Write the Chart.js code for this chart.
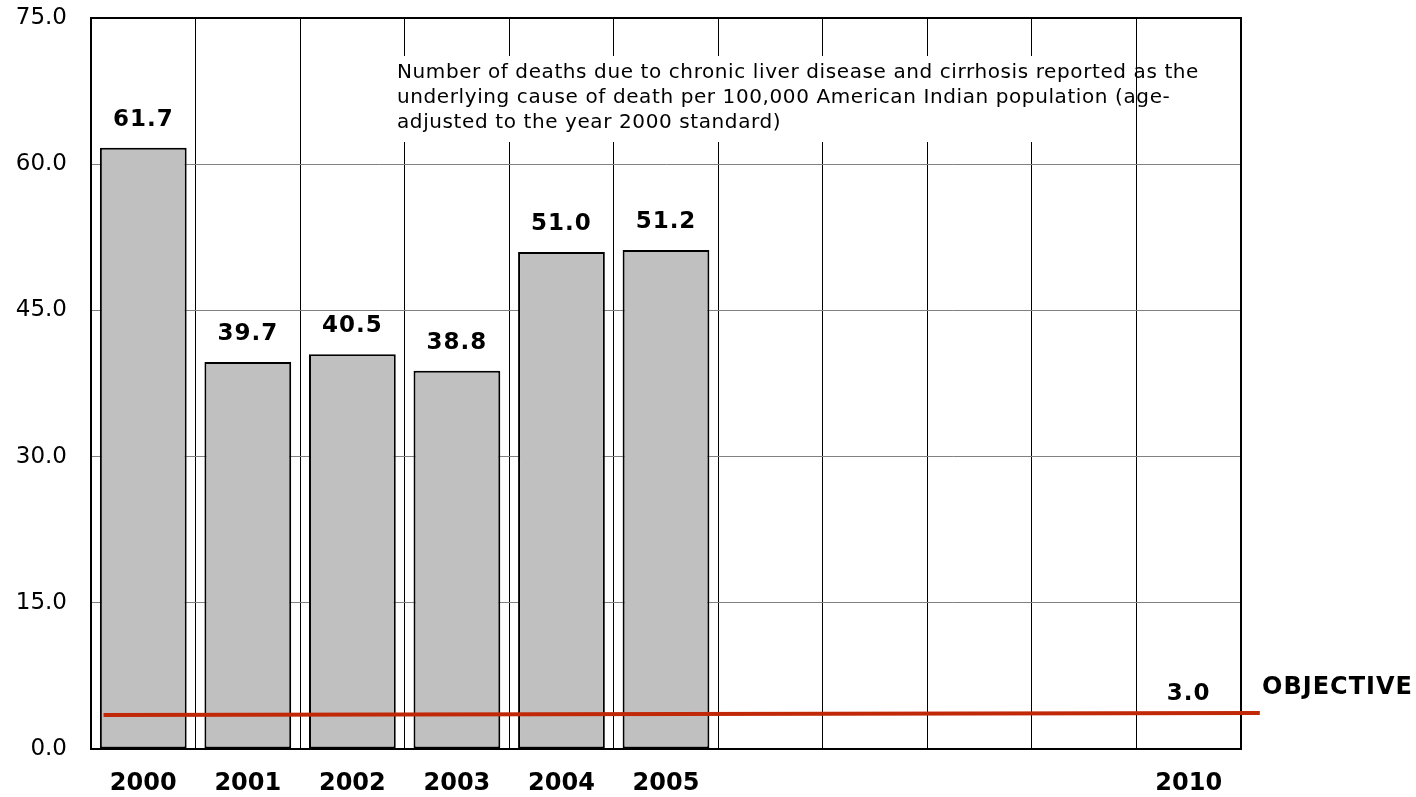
<!DOCTYPE html>
<html>
<head>
<meta charset="utf-8">
<script src="https://cdn.jsdelivr.net/npm/chart.js@4.4.1/dist/chart.umd.min.js"></script>
<style>
  html, body { margin: 0; padding: 0; background: #fff; }
  #wrap { width: 1416px; height: 797px; }
</style>
</head>
<body>
<div id="wrap"><canvas id="chart" width="1416" height="797"></canvas></div>
<script>
/* ── data ─────────────────────────────────────────── */
const years      = ['2000', '2001', '2002', '2003', '2004', '2005', '2006', '2007', '2008', '2009', '2010'];
const yearLabels = ['2000', '2001', '2002', '2003', '2004', '2005', '', '', '', '', '2010'];
const rates      = [61.7, 39.7, 40.5, 38.8, 51.0, 51.2, null, null, null, null, null];
const yTicks     = [0, 15, 30, 45, 60, 75];

// target line (x in category units, y in rate units)
const objectiveX     = [-0.38, 10.68];
const objectiveY     = [3.5, 3.7];
const objectiveValue = 3.0;
const objectiveYear  = 10;

const noteLines = [
  'Number of deaths due to chronic liver disease and cirrhosis reported as the',
  'underlying cause of death per 100,000 American Indian population (age-',
  'adjusted to the year 2000 standard)'
];

const FONT = '"DejaVu Sans", Verdana, sans-serif';

/* ── frame, note box and value labels ─────────────── */
const decorPlugin = {
  id: 'decor',
  beforeDatasetsDraw(chart) {
    const { ctx, chartArea: a } = chart;
    ctx.save();
    // white box behind the note, cuts the grid lines
    ctx.fillStyle = '#fff';
    ctx.fillRect(a.left + 302, a.top + 38, 707, 86);
    ctx.fillStyle = '#000';
    ctx.font = '20px ' + FONT;
    ctx.letterSpacing = '0.6px';
    ctx.textAlign = 'left';
    ctx.textBaseline = 'middle';
    noteLines.forEach((t, i) => ctx.fillText(t, a.left + 306, a.top + 55 + i * 25));
    // frame
    ctx.strokeStyle = '#000';
    ctx.lineWidth = 2;
    ctx.strokeRect(a.left, a.top, a.right - a.left, a.bottom - a.top);
    ctx.restore();
  },
  afterDatasetsDraw(chart) {
    const { ctx, chartArea: a } = chart;
    const xs = chart.scales.x, ys = chart.scales.y;
    ctx.save();
    ctx.fillStyle = '#000';
    ctx.font = 'bold 23px ' + FONT;
    ctx.letterSpacing = '1px';
    ctx.textAlign = 'center';
    ctx.textBaseline = 'middle';
    chart.getDatasetMeta(0).data.forEach((el, i) => {
      if (rates[i] == null) return;
      ctx.fillText(rates[i].toFixed(1), el.x, el.y - 28);
    });
    ctx.fillText(objectiveValue.toFixed(1), xs.getPixelForValue(objectiveYear), ys.getPixelForValue(objectiveValue) - 26);
    ctx.textAlign = 'left';
    ctx.font = 'bold 24px ' + FONT;
    ctx.fillText('OBJECTIVE', a.right + 21, ys.getPixelForValue(objectiveValue) - 32);
    ctx.restore();
  }
};

new Chart(document.getElementById('chart'), {
  type: 'bar',
  data: {
    labels: years,
    datasets: [
      {
        data: rates,
        backgroundColor: '#C0C0C0',
        borderColor: '#000',
        borderWidth: 2,
        borderSkipped: false,
        grouped: false,
        categoryPercentage: 0.83,
        barPercentage: 1,
        order: 1
      },
      {
        type: 'line',
        xAxisID: 'x2',
        data: objectiveX.map((x, i) => ({ x, y: objectiveY[i] })),
        borderColor: '#C02808',
        borderWidth: 4,
        pointRadius: 0,
        clip: false,
        order: 0
      }
    ]
  },
  options: {
    responsive: false,
    animation: false,
    events: [],
    layout: { padding: { top: 18, right: 175, bottom: 0, left: 0 } },
    plugins: { legend: { display: false }, tooltip: { enabled: false } },
    scales: {
      x: {
        offset: true,
        grid: { color: '#000', lineWidth: 1, offset: true, drawTicks: false },
        border: { display: true, color: '#000', width: 2 },
        ticks: {
          color: '#000',
          padding: 20,
          autoSkip: false,
          maxRotation: 0,
          font: { family: FONT, size: 24, weight: 'bold' },
          callback: (v, i) => yearLabels[i]
        },
        afterFit: s => { s.height = 48; s.paddingLeft = 0; s.paddingRight = 0; }
      },
      x2: { type: 'linear', display: false, offset: false, min: -0.5, max: 10.5 },
      y: {
        min: 0,
        max: 75,
        afterBuildTicks: s => { s.ticks = yTicks.map(v => ({ value: v })); },
        grid: { color: '#808080', lineWidth: 1, drawTicks: false },
        border: { display: true, color: '#000', width: 2 },
        ticks: {
          color: '#000',
          padding: 24,
          font: { family: FONT, size: 23 },
          callback: v => v.toFixed(1)
        },
        afterFit: s => { s.width = 91; s.paddingTop = 0; s.paddingBottom = 0; }
      }
    }
  },
  plugins: [decorPlugin]
});
</script>
</body>
</html>
